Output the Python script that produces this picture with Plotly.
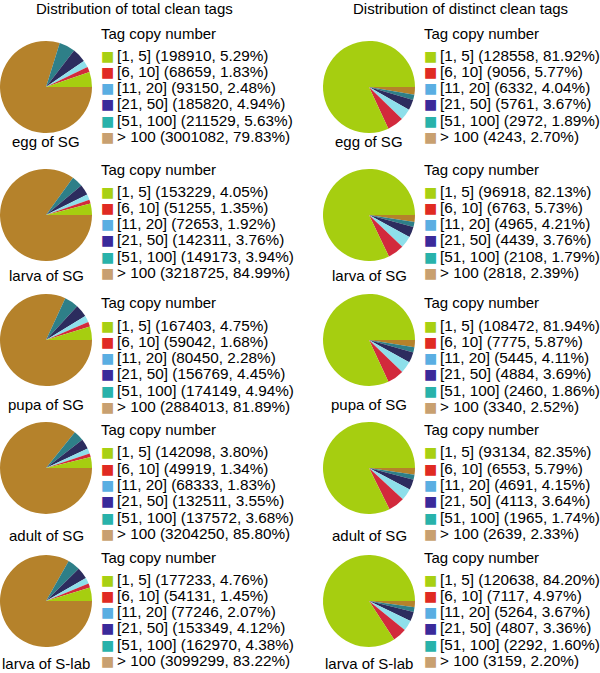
import plotly.graph_objects as go

# ---------------- data ----------------
categories = ["[1, 5]", "[6, 10]", "[11, 20]", "[21, 50]", "[51, 100]", "> 100"]
samples = ["egg of SG", "larva of SG", "pupa of SG", "adult of SG", "larva of S-lab"]

total_counts = [
    [198910, 68659, 93150, 185820, 211529, 3001082],
    [153229, 51255, 72653, 142311, 149173, 3218725],
    [167403, 59042, 80450, 156769, 174149, 2884013],
    [142098, 49919, 68333, 132511, 137572, 3204250],
    [177233, 54131, 77246, 153349, 162970, 3099299],
]
total_pct = [
    [5.29, 1.83, 2.48, 4.94, 5.63, 79.83],
    [4.05, 1.35, 1.92, 3.76, 3.94, 84.99],
    [4.75, 1.68, 2.28, 4.45, 4.94, 81.89],
    [3.80, 1.34, 1.83, 3.55, 3.68, 85.80],
    [4.76, 1.45, 2.07, 4.12, 4.38, 83.22],
]
distinct_counts = [
    [128558, 9056, 6332, 5761, 2972, 4243],
    [96918, 6763, 4965, 4439, 2108, 2818],
    [108472, 7775, 5445, 4884, 2460, 3340],
    [93134, 6553, 4691, 4113, 1965, 2639],
    [120638, 7117, 5264, 4807, 2292, 3159],
]
distinct_pct = [
    [81.92, 5.77, 4.04, 3.67, 1.89, 2.70],
    [82.13, 5.73, 4.21, 3.76, 1.79, 2.39],
    [81.94, 5.87, 4.11, 3.69, 1.86, 2.52],
    [82.35, 5.79, 4.15, 3.64, 1.74, 2.33],
    [84.20, 4.97, 3.67, 3.36, 1.60, 2.20],
]
column_titles = ["Distribution of total clean tags", "Distribution of distinct clean tags"]
legend_title = "Tag copy number"

# ---------------- styles ----------------
pie_colors = ["#A6CE10", "#D22A3C", "#8EDFEA", "#2C2C5E", "#2E7F88", "#B5822B"]
key_colors = ["#A8D012", "#E02A22", "#5AAEE2", "#3A2A9A", "#28B2AA", "#C8A070"]
FONT = "Liberation Sans, Arial, Helvetica, sans-serif"
W, H = 600, 673

pie_cx = [46, 369]
pie_r = 46
pie_cy = [87, 215, 340, 468, 601]
label_y = [141, 275, 404, 535, 663]
leg_title_y = [33, 169, 303, 430, 557]
leg_x = [99, 422]
entry_gap0 = 22
entry_step = 16.3
col_title_x = [134, 460]
col_title_y = 9


def px(x):
    return x / W


def py(y):
    return 1 - y / H


fig = go.Figure()
annotations = []

datasets = [(total_counts, total_pct), (distinct_counts, distinct_pct)]

for col, (counts, pcts) in enumerate(datasets):
    cx = pie_cx[col]
    annotations.append(dict(
        text=column_titles[col], x=px(col_title_x[col]), y=py(col_title_y),
        xanchor="center", yanchor="middle", showarrow=False,
        font=dict(size=15, family=FONT, color="black")))
    for row, name in enumerate(samples):
        cy = pie_cy[row]
        fig.add_trace(go.Pie(
            labels=categories[::-1], values=counts[row][::-1], name=name,
            sort=False, direction="clockwise", rotation=90,
            marker=dict(colors=pie_colors[::-1], line=dict(width=0)),
            textinfo="none", showlegend=False,
            domain=dict(x=[px(cx - pie_r), px(cx + pie_r)],
                        y=[py(cy + pie_r), py(cy - pie_r)]),
        ))
        annotations.append(dict(
            text=name, x=px(cx), y=py(label_y[row]),
            xanchor="center", yanchor="middle", showarrow=False,
            font=dict(size=15, family=FONT, color="black")))
        ty = leg_title_y[row]
        annotations.append(dict(
            text=legend_title, x=px(leg_x[col]), y=py(ty),
            xanchor="left", yanchor="middle", showarrow=False,
            font=dict(size=15, family=FONT, color="black")))
        for i, cat in enumerate(categories):
            txt = (f'<span style="color:{key_colors[i]};font-family:DejaVu Sans;font-size:14px">■</span>'
                   f'<span style="font-size:10px"> </span>'
                   f'{cat} ({counts[row][i]}, {pcts[row][i]:.2f}%)')
            annotations.append(dict(
                text=txt, x=px(leg_x[col]), y=py(ty + entry_gap0 + i * entry_step),
                xanchor="left", yanchor="middle", showarrow=False,
                font=dict(size=15.3, family=FONT, color="black")))

fig.update_layout(
    width=W, height=H, autosize=False,
    margin=dict(l=0, r=0, t=0, b=0),
    paper_bgcolor="white", plot_bgcolor="white",
    annotations=annotations,
    showlegend=False,
)

fig.write_html("out.html", config={"displayModeBar": False},
               post_script="document.body.style.margin='0px';")
